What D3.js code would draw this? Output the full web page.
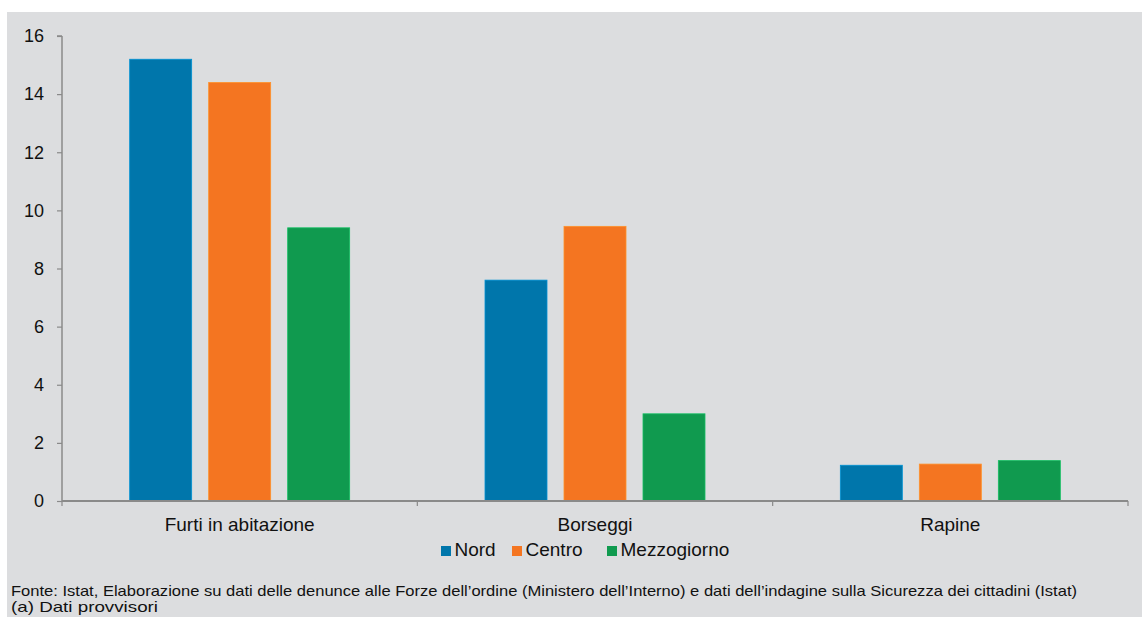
<!DOCTYPE html>
<html><head><meta charset="utf-8">
<script src="https://cdn.jsdelivr.net/npm/d3@7"></script>
<style>body{margin:0;background:#fff}svg{display:block}</style>
</head><body>
<svg id="c" width="1146" height="617"></svg>
<script>
const categories = ["Furti in abitazione", "Borseggi", "Rapine"];
const seriesNames = ["Nord", "Centro", "Mezzogiorno"];
const nord = [15.2, 7.6, 1.23];
const centro = [14.4, 9.45, 1.27];
const mezzogiorno = [9.4, 3.0, 1.39];
const yTicks = [0, 2, 4, 6, 8, 10, 12, 14, 16];
const colors = ["#0076ab", "#f47521", "#109a4f"];
const footer1 = "Fonte: Istat, Elaborazione su dati delle denunce alle Forze dell\u2019ordine (Ministero dell\u2019Interno) e dati dell\u2019indagine sulla Sicurezza dei cittadini (Istat)";
const footer2 = "(a) Dati provvisori";

const series = [nord, centro, mezzogiorno];
const svg = d3.select("#c");
svg.append("rect").attr("x", 7).attr("y", 12).attr("width", 1135).attr("height", 605).attr("fill", "#dcdddf");

const x0 = 62, x1 = 1128, yTop = 36, yBot = 501;
const x = d3.scaleBand().domain(categories).range([x0, x1]);
const y = d3.scaleLinear().domain([0, 16]).range([yBot, yTop]);
const barW = 62, gap = 17;
const inner = d3.scaleBand().domain(seriesNames).range([0, 3 * barW + 2 * gap]).paddingInner(gap / (barW + gap));

const font = "'Liberation Sans', Arial, sans-serif";

// bars
categories.forEach((c, i) => {
  const cx = x(c) + x.bandwidth() / 2 - (3 * barW + 2 * gap) / 2;
  seriesNames.forEach((s, j) => {
    const v = series[j][i];
    svg.append("rect")
      .attr("x", cx + inner(s)).attr("y", y(v))
      .attr("width", inner.bandwidth()).attr("height", y(0) - y(v))
      .attr("fill", colors[j])
      .attr("stroke", d3.color(colors[j]).brighter(0.6)).attr("stroke-width", 0.8);
  });
});

// y axis
const yAxis = svg.append("g").attr("transform", `translate(${x0},0)`)
  .call(d3.axisLeft(y).tickValues(yTicks).tickSize(5).tickPadding(13).tickFormat(d3.format("d")));
yAxis.select(".domain").attr("stroke", "#8a8a8a").attr("stroke-width", 1.5).attr("d", `M0,${yTop}H-5M0,${yTop}V${yBot}`);
yAxis.selectAll(".tick line").attr("stroke", "#8a8a8a").attr("stroke-width", 1.2);
yAxis.selectAll("text").attr("font-family", font).attr("font-size", 18).attr("fill", "#111");

// x axis
const xAxis = svg.append("g").attr("transform", `translate(0,${yBot})`);
xAxis.append("line").attr("x1", x0).attr("x2", x1).attr("stroke", "#8a8a8a").attr("stroke-width", 2.2);
const bounds = [x0].concat(categories.map(c => x(c) + x.bandwidth()));
xAxis.selectAll(".tk").data(bounds).join("line").attr("class", "tk")
  .attr("x1", d => d).attr("x2", d => d).attr("y1", 0).attr("y2", 5)
  .attr("stroke", "#8a8a8a").attr("stroke-width", 1.2);
xAxis.selectAll(".cl").data(categories).join("text").attr("class", "cl")
  .attr("x", d => x(d) + x.bandwidth() / 2).attr("y", 30)
  .attr("text-anchor", "middle").attr("font-family", font).attr("font-size", 19).attr("fill", "#111")
  .text(d => d);

// legend
const legX = [441, 512, 607];
seriesNames.forEach((s, j) => {
  svg.append("rect").attr("x", legX[j]).attr("y", 546).attr("width", 10).attr("height", 10).attr("fill", colors[j]);
  svg.append("text").attr("x", legX[j] + 13.5).attr("y", 556).attr("font-family", font).attr("font-size", 19).attr("fill", "#111").text(s);
});

// footer
const ffont = "'Liberation Sans', Arial, sans-serif";
svg.append("text").attr("x", 11).attr("y", 596).attr("font-family", ffont).attr("font-size", 15).attr("fill", "#111")
  .attr("textLength", 1066).attr("lengthAdjust", "spacingAndGlyphs").text(footer1);
svg.append("text").attr("x", 11).attr("y", 612).attr("font-family", ffont).attr("font-size", 15).attr("fill", "#111")
  .attr("textLength", 147).attr("lengthAdjust", "spacingAndGlyphs").text(footer2);
</script>
</body></html>
